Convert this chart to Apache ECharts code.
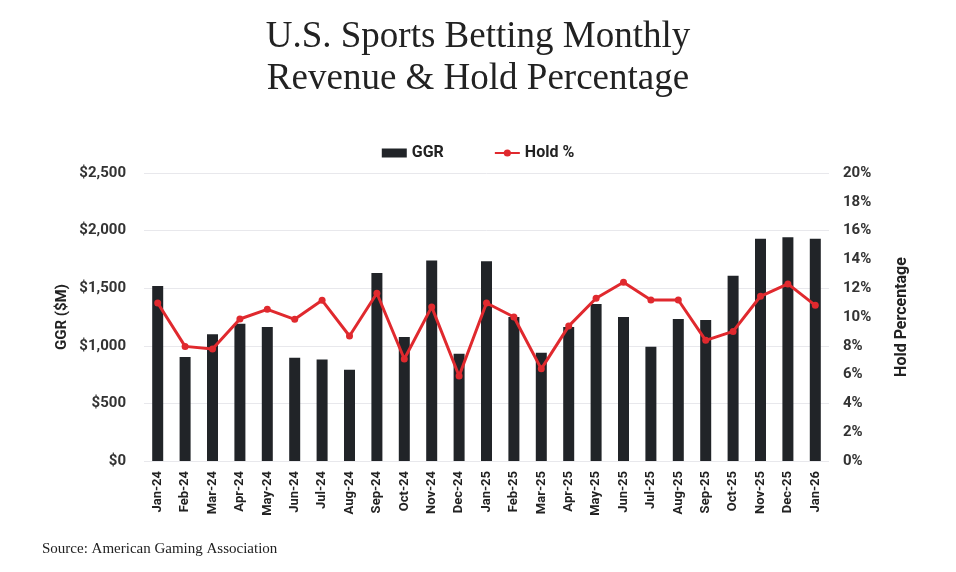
<!DOCTYPE html>
<html>
<head>
<meta charset="utf-8">
<script src="https://cdn.jsdelivr.net/npm/echarts@6/dist/echarts.min.js"></script>
<style>
  html, body { margin: 0; padding: 0; background: #fff; }
  #main { width: 956px; height: 572px; }
</style>
</head>
<body>
<div id="main"></div>
<script>
// 月份
var months = ['Jan-24', 'Feb-24', 'Mar-24', 'Apr-24', 'May-24', 'Jun-24', 'Jul-24', 'Aug-24',
  'Sep-24', 'Oct-24', 'Nov-24', 'Dec-24', 'Jan-25', 'Feb-25', 'Mar-25', 'Apr-25', 'May-25',
  'Jun-25', 'Jul-25', 'Aug-25', 'Sep-25', 'Oct-25', 'Nov-25', 'Dec-25', 'Jan-26'];
// GGR ($M)
var ggr = [1520, 902, 1100, 1192, 1163, 896, 882, 792, 1633, 1076, 1740, 931, 1735,
  1250, 940, 1163, 1363, 1250, 992, 1233, 1224, 1607, 1929, 1943, 1929];
// Hold %
var hold = [10.97, 7.96, 7.77, 9.86, 10.53, 9.84, 11.16, 8.68, 11.65, 7.08, 10.7, 5.9, 10.97,
  10.0, 6.4, 9.37, 11.3, 12.41, 11.18, 11.18, 8.38, 9.0, 11.44, 12.3, 10.81];

var axisFont = 'Roboto';
var myChart = echarts.init(document.getElementById('main'));

var option = {
  backgroundColor: '#fff',
  title: [
    {
      text: 'U.S. Sports Betting Monthly\nRevenue & Hold Percentage',
      left: 'center',
      top: 11,
      textStyle: {
        fontFamily: 'Liberation Serif',
        fontWeight: 'normal',
        fontSize: 37,
        lineHeight: 42,
        color: '#222'
      }
    },
    {
      text: 'Source: American Gaming Association',
      left: 37,
      top: 537,
      textStyle: {
        fontFamily: 'Liberation Serif',
        fontWeight: 'normal',
        fontSize: 15,
        color: '#222'
      }
    }
  ],
  legend: {
    top: 140,
    left: 'center',
    itemGap: 50,
    itemWidth: 25,
    itemHeight: 9,
    textStyle: { fontFamily: axisFont, fontWeight: 'bold', fontSize: 16, color: '#222' },
    data: [
      { name: 'GGR', icon: 'rect' },
      { name: 'Hold %' }
    ]
  },
  grid: { left: 144, right: 127, top: 173, bottom: 111 },
  xAxis: {
    type: 'category',
    data: months,
    axisTick: { show: false },
    axisLine: { show: false },
    axisLabel: {
      rotate: 90,
      interval: 0,
      margin: 10,
      fontFamily: axisFont,
      fontWeight: 'bold',
      fontSize: 13,
      color: '#222'
    }
  },
  yAxis: [
    {
      type: 'value',
      min: 0,
      max: 2500,
      interval: 500,
      name: 'GGR ($M)',
      nameLocation: 'middle',
      nameGap: 74,
      nameMoveOverlap: false,
      nameTextStyle: { fontFamily: axisFont, fontWeight: 'bold', fontSize: 15, color: '#222' },
      axisLabel: {
        fontFamily: axisFont,
        fontWeight: 'bold',
        fontSize: 15,
        color: '#333',
        margin: 18,
        formatter: function (v) {
          return '$' + v.toLocaleString('en-US');
        }
      },
      splitLine: { lineStyle: { color: '#e8e8ec', width: 1 } }
    },
    {
      type: 'value',
      min: 0,
      max: 20,
      interval: 2,
      name: 'Hold Percentage',
      nameLocation: 'middle',
      nameGap: 65,
      nameTextStyle: { fontFamily: axisFont, fontWeight: 'bold', fontSize: 16, color: '#222' },
      axisLabel: {
        fontFamily: axisFont,
        fontWeight: 'bold',
        fontSize: 15,
        color: '#333',
        margin: 14,
        formatter: '{value}%'
      },
      splitLine: { show: false }
    }
  ],
  series: [
    {
      name: 'GGR',
      type: 'bar',
      data: ggr,
      barWidth: 11,
      itemStyle: { color: '#212428' }
    },
    {
      name: 'Hold %',
      type: 'line',
      yAxisIndex: 1,
      data: hold,
      symbol: 'circle',
      symbolSize: 7,
      lineStyle: { color: '#e0292e', width: 3 },
      itemStyle: { color: '#e0292e' }
    }
  ]
};

myChart.setOption(option);
</script>
</body>
</html>
